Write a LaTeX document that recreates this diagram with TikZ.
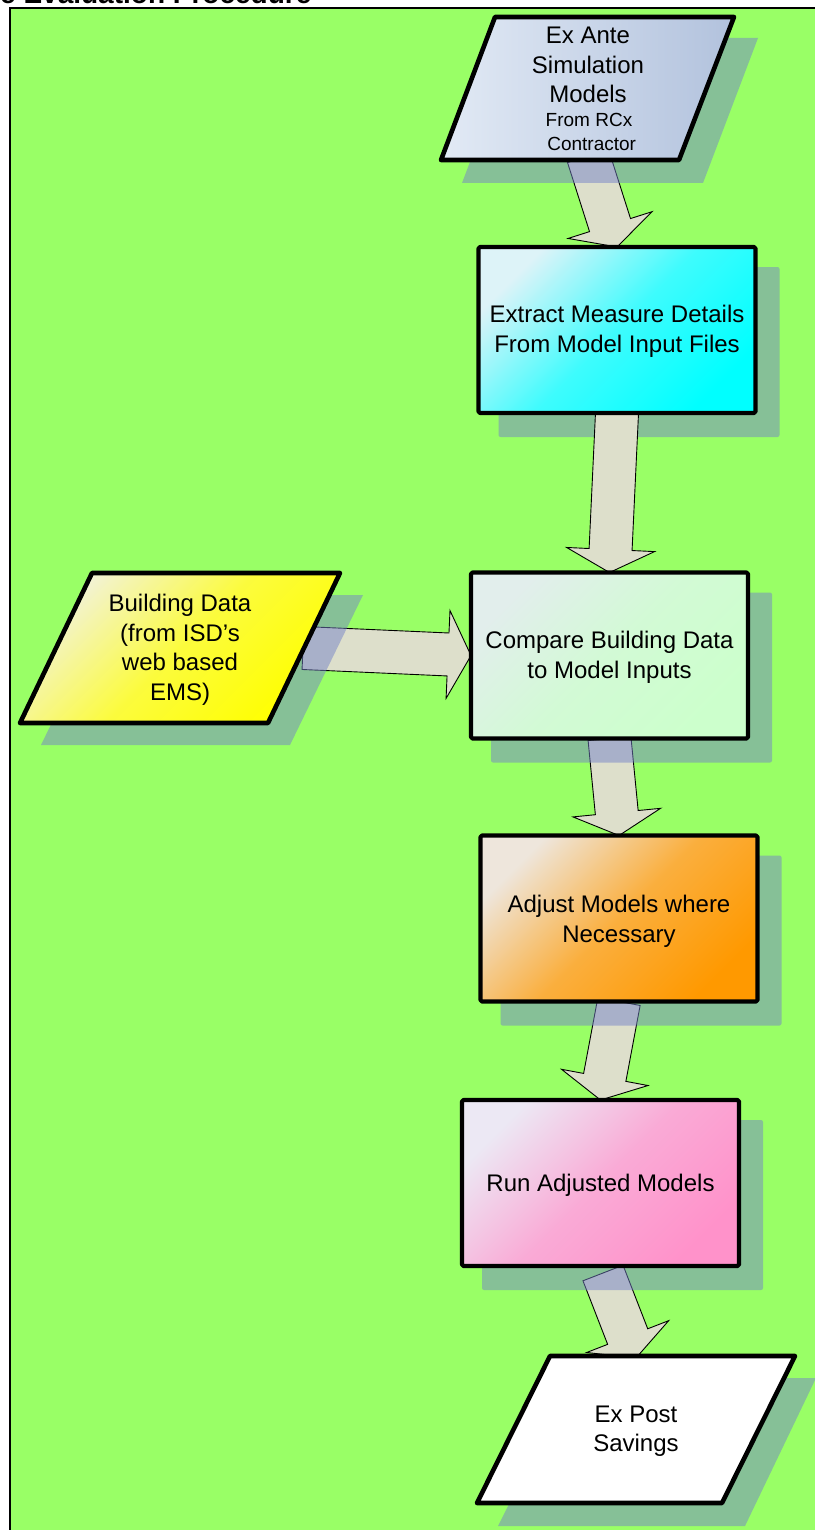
\documentclass[tikz,border=0pt]{standalone}
\usepackage{fontspec}
\setmainfont{Liberation Sans}
\usetikzlibrary{calc}
\definecolor{bggreen}{HTML}{99FF66}
\definecolor{arrfill}{HTML}{DDDFCB}
\definecolor{shadowc}{HTML}{7482C8}
\definecolor{eaL}{HTML}{E2EAF5}
\definecolor{eaR}{HTML}{B2C2DD}
\definecolor{exL}{HTML}{DDF3F8}
\definecolor{exR}{HTML}{00FFFF}
\definecolor{cmL}{HTML}{E2EEEC}
\definecolor{cmR}{HTML}{CCFFCC}
\definecolor{bdL}{HTML}{F2F2DA}
\definecolor{bdR}{HTML}{FFFF00}
\definecolor{adL}{HTML}{EEE6DC}
\definecolor{adR}{HTML}{FF9900}
\definecolor{rnL}{HTML}{ECE8F4}
\definecolor{rnR}{HTML}{FF92CA}
\pgfdeclarelayer{bg}
\pgfdeclarelayer{arr}
\pgfdeclarelayer{shd}
\pgfdeclarelayer{arrtop}
\pgfsetlayers{bg,arr,shd,arrtop,main}
\newcommand{\blockarr}[2]{%
  \coordinate (ba-h) at ($(#2)!23pt!(#1)$);
  \draw[barrow] ($(#1)!21.5pt!90:(#2)$) -- ($(ba-h)!21.5pt!90:(#2)$) -- ($(ba-h)!44pt!90:(#2)$) -- (#2) -- ($(ba-h)!44pt!-90:(#2)$) -- ($(ba-h)!21.5pt!-90:(#2)$) -- ($(#1)!21.5pt!-90:(#2)$) -- cycle;
}
\tikzset{
  barrow/.style={fill=arrfill, draw=black, line width=0.9pt, line join=miter},
  shadowfill/.style={fill=shadowc, fill opacity=0.5},
  procbox/.style={draw=black, line width=4.2pt, line join=round, rounded corners=1.5pt,
    minimum width=277pt, minimum height=166pt, outer sep=0pt, inner sep=0pt,
    text=black},
  para/.style={draw=black, line width=4.6pt, line join=round},
  lbl/.style={font=\fontsize{24}{29.5}\selectfont, align=center, text=black, inner sep=0pt},
  diag/.style n args={2}{top color=#1, bottom color=#2, middle color=#2!72!#1, shading angle=45},
}
\begin{document}
\begin{tikzpicture}[x=1pt,y=-1pt]
\useasboundingbox (0,0) rectangle (814,1530);
% frame
\begin{pgfonlayer}{bg}
\draw[line width=2pt, fill=bggreen] (10,8) rectangle (840,1560);
\end{pgfonlayer}
% title (cut off at top)
\node[anchor=base west, inner sep=0pt, font=\fontsize{28}{30}\bfseries\selectfont] (title) at (0,4) {e Evaluation Procedure};

% Ex Ante parallelogram
\draw[para, left color=eaL, right color=eaR] (495,17) -- (734,17) -- (679,160) -- (441,160) -- cycle;
\node[lbl] (exante) at (588,65) {Ex Ante\\Simulation\\Models};
\node[lbl, font=\fontsize{19}{23.5}\selectfont] (exantesub) at (589,132) {From RCx\\ \ Contractor};
\coordinate (exante-b) at (588,156);

% Building data parallelogram
\draw[para, diag={bdL}{bdR}] (92,573) -- (340,573) -- (268,723) -- (20,723) -- cycle;
\node[lbl] (bdata) at (180,650) {Building Data\\(from ISD’s\\web based\\EMS)};
\coordinate (bdata-r) at (303,648);

% Ex Post parallelogram
\draw[para, fill=white] (550,1356) -- (795,1356) -- (722,1503) -- (477,1503) -- cycle;
\node[lbl] (expost) at (636,1431) {Ex Post\\Savings};
\coordinate (expost-t) at (636,1358);

% process boxes
\node[procbox, diag={exL}{exR}] (extract) at (617,330) {};
\node[lbl] (extractt) at (617,331.5) {Extract Measure Details\\From Model Input Files};
\node[procbox, diag={cmL}{cmR}] (compare) at (609.5,655.5) {};
\node[lbl] (comparet) at (609.5,657.5) {Compare Building Data\\to Model Inputs};
\node[procbox, diag={adL}{adR}] (adjust) at (619,918.5) {};
\node[lbl] (adjustt) at (619,921.5) {Adjust Models where\\Necessary};
\node[procbox, diag={rnL}{rnR}] (run) at (600.5,1183) {};
\node[lbl] (runt) at (600.5,1185) {Run Adjusted Models};

% shadows
\begin{pgfonlayer}{shd}
\fill[shadowfill] (517,38) -- (758,38) -- (703,183) -- (462,183) -- cycle;
\fill[shadowfill] (114,595) -- (363,595) -- (290,745) -- (41,745) -- cycle;
\fill[shadowfill] (572,1378) -- (816,1378) -- (745,1526) -- (498,1526) -- cycle;
\foreach \n in {extract,compare,adjust,run}{
  \fill[shadowfill, rounded corners=2pt] ($(\n.north west)+(20,20)$) rectangle ($(\n.south east)+(24,24)$);
}
\end{pgfonlayer}

% block arrows
\begin{pgfonlayer}{arr}
\blockarr{exante-b}{extract.north}
\blockarr{bdata-r}{compare.west}
\blockarr{compare.south}{adjust.north}
\blockarr{adjust.south}{run.north}
\coordinate (run-b) at (603,1273);
\blockarr{run-b}{expost-t}
\end{pgfonlayer}
\begin{pgfonlayer}{arrtop}
\blockarr{extract.south}{compare.north}
\end{pgfonlayer}
\end{tikzpicture}
\end{document}
